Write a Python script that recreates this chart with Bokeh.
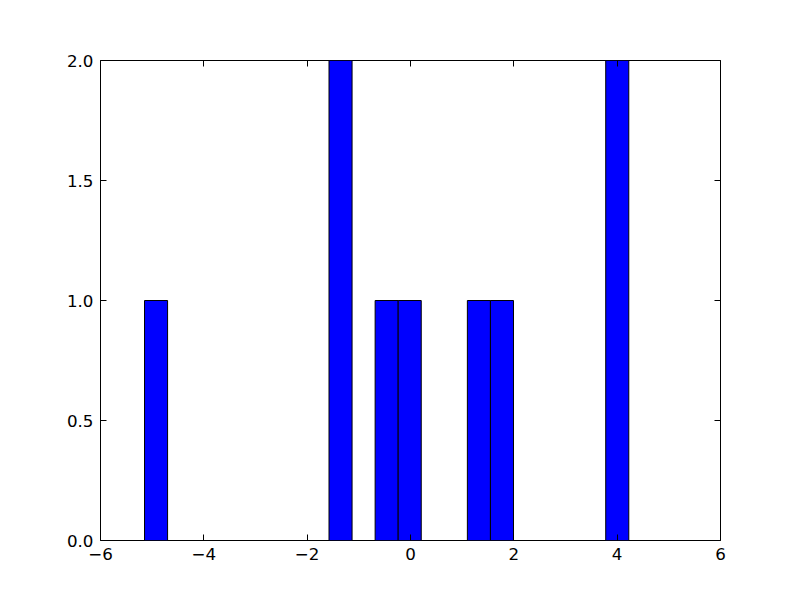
import numpy as np
from bokeh.plotting import figure
from bokeh.models import Range1d, LinearAxis, FixedTicker, ColumnDataSource
from bokeh.embed import file_html
from bokeh.resources import INLINE

# Histogram data (21 equal bins)
bin_min = -5.148
bin_max = 4.225
counts = [1, 0, 0, 0, 0, 0, 0, 0, 2, 0, 1, 1, 0, 0, 1, 1, 0, 0, 0, 0, 2]

x_ticks = [-6, -4, -2, 0, 2, 4, 6]
y_ticks = [0.0, 0.5, 1.0, 1.5, 2.0]

edges = np.linspace(bin_min, bin_max, len(counts) + 1)
src_nz = ColumnDataSource(dict(
    left=[l for l, c in zip(edges[:-1], counts) if c > 0],
    right=[r for r, c in zip(edges[1:], counts) if c > 0],
    top=[c for c in counts if c > 0],
    bottom=[0 for c in counts if c > 0]))

p = figure(output_backend="svg", toolbar_location=None,
           frame_width=620, frame_height=480,
           min_border_left=100, min_border_right=64,
           min_border_top=60, min_border_bottom=44,
           x_range=Range1d(-6, 6), y_range=Range1d(0, 2),
           x_axis_location=None, y_axis_location=None)
p.background_fill_color = "white"
p.border_fill_color = "white"
p.outline_line_color = "black"
p.outline_line_width = 1
p.grid.visible = False

p.quad(left="left", right="right", top="top", bottom="bottom", source=src_nz,
       fill_color="#0000ff", line_color="black", line_width=1)

FONT = "DejaVu Sans"
FS = "16.7px"

def style(ax, ticks, fmt):
    ax.ticker = FixedTicker(ticks=ticks)
    ax.major_tick_in = 6
    ax.major_tick_out = 0
    ax.minor_tick_in = 0
    ax.minor_tick_out = 0
    ax.axis_line_color = None
    ax.major_tick_line_color = "black"
    ax.major_label_text_font = FONT
    ax.major_label_text_font_size = FS
    ax.major_label_text_color = "black"
    ax.major_label_standoff = 7
    ax.major_label_overrides = fmt

xfmt = {t: (("\u2212" + str(abs(t))) if t < 0 else str(t)) for t in x_ticks}
yfmt = {t: "%.1f" % t for t in y_ticks}
xblank = {t: "" for t in x_ticks}
yblank = {t: "" for t in y_ticks}

bx = LinearAxis(); style(bx, x_ticks, xfmt); p.add_layout(bx, "below")
ly = LinearAxis(); style(ly, y_ticks, yfmt); p.add_layout(ly, "left")
tx = LinearAxis(); style(tx, x_ticks, xblank); tx.major_label_standoff = 0; p.add_layout(tx, "above")
ry = LinearAxis(); style(ry, y_ticks, yblank); ry.major_label_standoff = 0; p.add_layout(ry, "right")

open("out.html", "w").write(file_html(p, INLINE))
